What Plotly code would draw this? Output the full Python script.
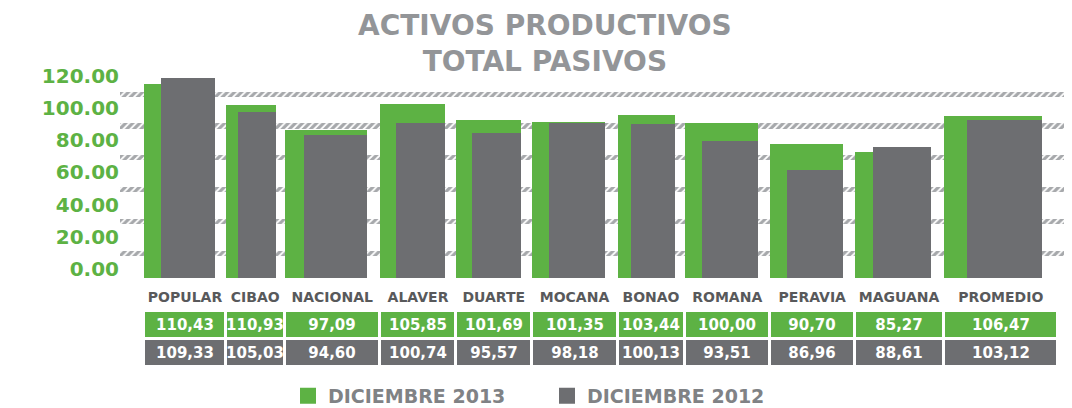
import numpy as np
import plotly.graph_objects as go

# categories and table values (as printed under the bars)
categories = ['POPULAR', 'CIBAO', 'NACIONAL', 'ALAVER', 'DUARTE', 'MOCANA',
	'BONAO', 'ROMANA', 'PERAVIA', 'MAGUANA', 'PROMEDIO']
dic_2013 = [110.43, 110.93, 97.09, 105.85, 101.69, 101.35, 103.44, 100.00, 90.70, 85.27, 106.47]
dic_2012 = [109.33, 105.03, 94.60, 100.74, 95.57, 98.18, 100.13, 93.51, 86.96, 88.61, 103.12]

# bar heights as drawn in the graphic (read against its axis, they do not follow the table)
bar_2013 = [120.5, 107.5, 91.9, 108.1, 98.1, 96.9, 101.2, 96.3, 83.2, 78.3, 100.6]
bar_2012 = [124.2, 103.1, 88.8, 96.3, 90.1, 96.3, 95.7, 85.1, 67.1, 81.4, 98.1]

y_ticks = [0, 20, 40, 60, 80, 100, 120]
grid_levels = [15.5, 35.3, 55.1, 75.0, 94.6, 114.4]

# styles
GREEN = '#5db244'
GRAY = '#6d6e71'
HATCH = '#a6a8ab'
TITLE_GRAY = '#939598'
FONT = 'DejaVu Sans'
col_widths = [82, 58.5, 95.5, 76, 75.5, 86, 67, 85.5, 84.5, 89, 114.5]

# the page body keeps its default 8px margin, so the figure is made that much smaller
OFF = 8
W, H = 1072 - OFF, 408 - OFF
xp = lambda px: (px - OFF)/W
yp = lambda py: 1 - (py - OFF)/H

col_widths = np.array(col_widths)
col_left = np.concatenate([[0], np.cumsum(col_widths)[:-1]])
col_edges = np.concatenate([col_left, [col_left[-1] + col_widths[-1]]])
col_center = col_left + col_widths/2
green_w = 0.86*col_widths
gray_w = 0.76*green_w
green_x = col_left + green_w/2
gray_x = col_left + green_w - gray_w/2

fmt = lambda v: f'{v:.2f}'.replace('.', ',')

fig = go.Figure()

# hatched grid bands (base axis, drawn behind the bars)
fig.add_trace(
	go.Bar(
		y = grid_levels,
		x = [1]*len(grid_levels),
		base = 0,
		orientation = 'h',
		width = 3.2,
		marker = dict(
			color = HATCH,
			line = dict(width = 0),
			pattern = dict(shape = '/', fgcolor = 'white', bgcolor = HATCH, size = 5, solidity = 0.35, fillmode = 'replace'),
		),
		showlegend = False,
		hoverinfo = 'skip',
		xaxis = 'x',
		yaxis = 'y',
	)
)
fig.add_trace(
	go.Bar(
		x = green_x,
		y = bar_2013,
		width = green_w,
		marker = dict(color = GREEN, line = dict(width = 0)),
		name = 'DICIEMBRE 2013',
		showlegend = False,
		xaxis = 'x2',
		yaxis = 'y',
	)
)
fig.add_trace(
	go.Bar(
		x = gray_x,
		y = bar_2012,
		width = gray_w,
		marker = dict(color = GRAY, line = dict(width = 0)),
		name = 'DICIEMBRE 2012',
		showlegend = False,
		xaxis = 'x2',
		yaxis = 'y',
	)
)
for name, color in [('DICIEMBRE 2013', GREEN), ('DICIEMBRE 2012', GRAY)]:
	fig.add_trace(
		go.Scatter(
			x = [None],
			y = [None],
			mode = 'markers',
			marker = dict(symbol = 'square', size = 16, color = color),
			name = name,
			xaxis = 'x2',
			yaxis = 'y',
		)
	)

# value table: one row per year, one column per category
fig.add_trace(
	go.Heatmap(
		x = col_edges,
		y = [0, 1],
		z = [[0]*len(categories), [1]*len(categories)],
		text = [[fmt(v) for v in dic_2012], [fmt(v) for v in dic_2013]],
		texttemplate = '%{text}',
		textfont = dict(family = FONT, size = 15, color = 'white', weight = 'bold'),
		colorscale = [[0, GRAY], [1, GREEN]],
		showscale = False,
		xgap = 3,
		ygap = 3,
		hoverinfo = 'skip',
		xaxis = 'x3',
		yaxis = 'y3',
	)
)

x_range = [col_left[0] - 24, col_left[0] + 928]

fig.update_layout(
	width = W,
	height = H,
	margin = dict(l = 0, r = 0, t = 0, b = 0, autoexpand = False),
	paper_bgcolor = 'white',
	plot_bgcolor = 'rgba(0,0,0,0)',
	barmode = 'overlay',
	bargap = 0,
	xaxis = dict(domain = [xp(120), 1], range = [0, 1], visible = False),
	xaxis2 = dict(domain = [xp(120), 1], range = x_range, overlaying = 'x', visible = False),
	yaxis = dict(
		domain = [yp(278), yp(278 - 130*1.61)],
		range = [0, 130],
		tickvals = y_ticks,
		ticktext = [f'{v:.2f}' for v in y_ticks],
		tickfont = dict(family = FONT, size = 20, color = GREEN, weight = 'bold'),
		ticklabelshift = -9,
		ticks = '',
		showgrid = False,
		zeroline = False,
		showline = False,
	),
	xaxis3 = dict(
		domain = [xp(120), 1],
		range = x_range,
		anchor = 'y3',
		side = 'top',
		tickvals = col_center,
		ticktext = categories,
		tickfont = dict(family = FONT, size = 14, color = '#58595b', weight = 'bold'),
		ticklabelstandoff = 5,
		ticks = '',
		showgrid = False,
		zeroline = False,
		showline = False,
	),
	yaxis3 = dict(
		domain = [yp(367), yp(311)],
		range = [-0.5, 1.5],
		anchor = 'x3',
		visible = False,
	),
	legend = dict(
		orientation = 'h',
		x = xp(288),
		y = -0.017,
		xanchor = 'left',
		yanchor = 'bottom',
		font = dict(family = FONT, size = 19, color = '#808285', weight = 'bold'),
		itemsizing = 'trace',
		entrywidth = 214,
		bgcolor = 'rgba(0,0,0,0)',
	),
	annotations = [
		dict(text = 'ACTIVOS PRODUCTIVOS<br>TOTAL PASIVOS', x = xp(545), y = yp(44),
			xref = 'paper', yref = 'paper', yanchor = 'middle', showarrow = False,
			font = dict(family = FONT, size = 28, color = TITLE_GRAY, weight = 'bold')),
	],
)

fig.write_html('out.html')
